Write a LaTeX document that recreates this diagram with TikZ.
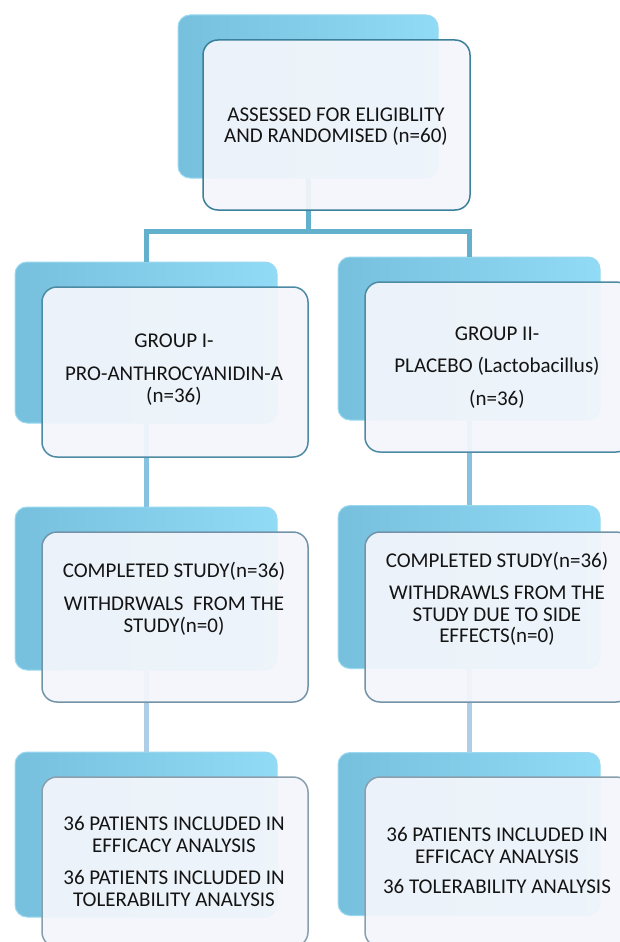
\documentclass[tikz,border=0pt]{standalone}
\usepackage{fontspec}
\setmainfont{Carlito}
\definecolor{backL}{HTML}{76C0DE}
\definecolor{backR}{HTML}{92DBF6}
\definecolor{backEdge}{HTML}{9AD9F0}
\definecolor{frontFill}{HTML}{F4F6FB}
\definecolor{edgeA}{HTML}{3B7F9B}
\definecolor{edgeB}{HTML}{4D8AA3}
\definecolor{edgeC}{HTML}{7394A8}
\definecolor{edgeD}{HTML}{8A9FAD}
\definecolor{linkA}{HTML}{62B0CB}
\definecolor{linkB}{HTML}{86C2E0}
\definecolor{linkC}{HTML}{AECDE6}
\definecolor{txt}{HTML}{141414}
\begin{document}
\begin{tikzpicture}[x=1pt,y=-1pt,
  backbox/.style={rounded corners=12pt, draw=backEdge, line width=1pt,
    left color=backL, right color=backR,
    minimum width=262pt, minimum height=163pt, inner sep=0pt},
  frontbox/.style={rounded corners=15pt, fill=frontFill, fill opacity=0.93,
    line width=1.5pt, minimum width=266pt, minimum height=170pt, inner sep=0pt},
  lbl/.style={align=center, font=\fontsize{21}{21.5}\selectfont, text=txt, inner sep=0pt},
  link/.style={line width=5pt}]
\useasboundingbox (0,0) rectangle (620,942);
\clip (0,0) rectangle (620,942);
\fill[white] (0,0) rectangle (620,942);

% back boxes
\node[backbox, minimum width=260pt] (tb) at (308,96.5) {};
\node[backbox, minimum height=161pt] (lgb) at (146,342.5) {};
\node[backbox] (rgb) at (469,338.5) {};
\node[backbox] (lmb) at (146,588.5) {};
\node[backbox] (rmb) at (469,587) {};
\node[backbox, minimum height=165pt] (lbb) at (146,834.5) {};
\node[backbox] (rbb) at (469,834) {};

% connectors
\coordinate (jn) at (308,231);
\draw[link, linkA] (tb.south) -- (jn);
\draw[link, linkA] (jn) -| (lgb.north);
\draw[link, linkA] (jn) -| (rgb.north);
\draw[link, linkB] (lgb.south) -- (lmb.north);
\draw[link, linkB] (rgb.south) -- (rmb.north);
\draw[link, linkC] (lmb.south) -- (lbb.north);
\draw[link, linkC] (rmb.south) -- (rbb.north);

% front boxes
\node[frontbox, draw=edgeA, minimum width=267pt] (tf) at (336.5,125) {};
\node[frontbox, draw=edgeB] (lgf) at (175,372) {};
\node[frontbox, draw=edgeB] (rgf) at (498,367) {};
\node[frontbox, draw=edgeC] (lmf) at (175,617) {};
\node[frontbox, draw=edgeC] (rmf) at (498,617) {};
\node[frontbox, draw=edgeD] (lbf) at (175,862) {};
\node[frontbox, draw=edgeD] (rbf) at (498,862) {};

% texts
\node[lbl] (tt) at (336,126.5) {ASSESSED FOR ELIGIBLITY\\AND RANDOMISED (n=60)};
\node[lbl] (lgt) at (174,369.5) {GROUP I-\\[12pt]PRO-ANTHROCYANIDIN-A\\(n=36)};
\node[lbl] (rgt) at (497,367.5) {GROUP II-\\[11pt]PLACEBO (Lactobacillus)\\[11pt](n=36)};
\node[lbl] (lmt) at (174,598.5) {COMPLETED STUDY(n=36)\\[12pt]WITHDRWALS\ \ FROM THE\\STUDY(n=0)};
\node[lbl] (rmt) at (497,599) {COMPLETED STUDY(n=36)\\[11pt]WITHDRAWLS FROM THE\\STUDY DUE TO SIDE\\EFFECTS(n=0)};
\node[lbl] (lbt) at (174,861.5) {36 PATIENTS INCLUDED IN\\EFFICACY ANALYSIS\\[11pt]36 PATIENTS INCLUDED IN\\TOLERABILITY ANALYSIS};
\node[lbl] (rbt) at (497,860.5) {36 PATIENTS INCLUDED IN\\EFFICACY ANALYSIS\\[9pt]36 TOLERABILITY ANALYSIS};
\end{tikzpicture}
\end{document}
